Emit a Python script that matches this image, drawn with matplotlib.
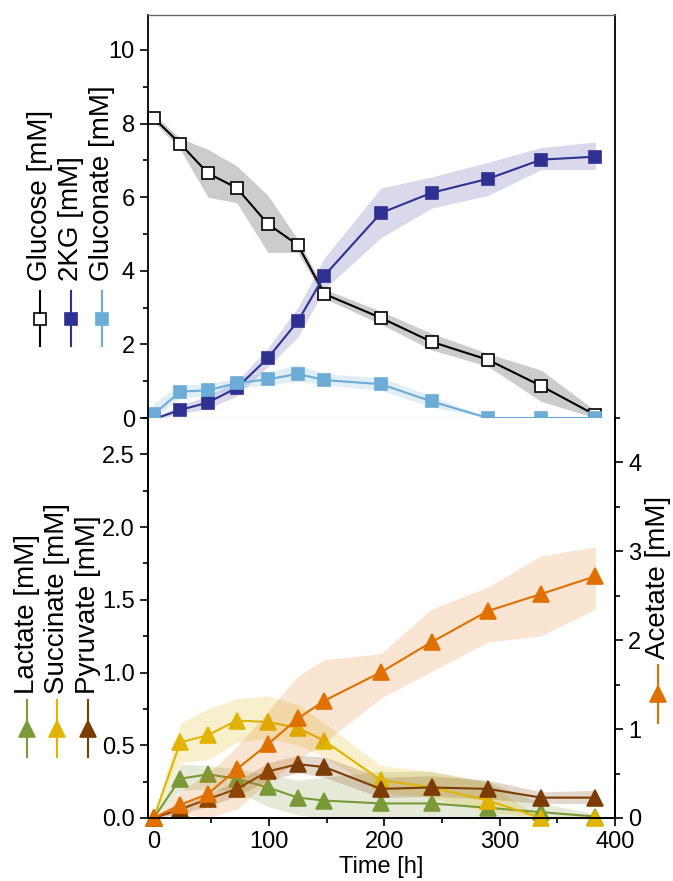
import matplotlib
matplotlib.use("Agg")
import matplotlib.pyplot as plt
import numpy as np
from matplotlib.lines import Line2D
from matplotlib.ticker import MultipleLocator

plt.rcParams['font.family'] = ['Liberation Sans', 'DejaVu Sans']
plt.rcParams['font.size'] = 17

# sampling times [h]
time = [0, 23, 47, 72, 99, 125, 148, 197, 241, 290, 336, 383]

# top panel
glucose = [8.15, 7.45, 6.65, 6.25, 5.27, 4.70, 3.37, 2.72, 2.07, 1.58, 0.87, 0.08]
glucose_lo = [8.05, 7.30, 6.00, 5.85, 4.50, 4.50, 3.25, 2.55, 1.85, 1.40, 0.45, 0.00]
glucose_hi = [8.25, 7.60, 7.30, 6.85, 6.05, 4.85, 3.50, 2.90, 2.30, 1.75, 1.30, 0.20]
kg2 = [-0.03, 0.22, 0.42, 0.82, 1.63, 2.63, 3.87, 5.57, 6.12, 6.50, 7.02, 7.10]
kg2_lo = [-0.05, 0.12, 0.25, 0.60, 1.40, 2.20, 3.50, 4.90, 5.70, 6.05, 6.75, 6.75]
kg2_hi = [0.00, 0.35, 0.60, 1.00, 1.90, 3.00, 4.35, 6.25, 6.55, 6.95, 7.35, 7.50]
gluconate = [0.10, 0.72, 0.75, 0.95, 1.05, 1.20, 1.03, 0.92, 0.45, 0.00, 0.00, 0.00]
gluconate_lo = [0.00, 0.55, 0.60, 0.80, 0.90, 1.00, 0.90, 0.75, 0.30, 0.00, 0.00, 0.00]
gluconate_hi = [0.40, 0.90, 0.92, 1.10, 1.25, 1.45, 1.20, 1.10, 0.60, 0.00, 0.00, 0.00]

# bottom panel (left axis)
lactate = [0.00, 0.27, 0.30, 0.27, 0.21, 0.14, 0.12, 0.10, 0.10, 0.07, 0.04, 0.01]
lactate_lo = [0.00, 0.19, 0.20, 0.18, 0.08, 0.02, 0.00, 0.00, 0.00, 0.00, 0.00, 0.00]
lactate_hi = [0.00, 0.37, 0.36, 0.34, 0.30, 0.26, 0.28, 0.32, 0.32, 0.25, 0.10, 0.03]
succinate = [0.00, 0.52, 0.57, 0.67, 0.66, 0.62, 0.53, 0.26, 0.21, 0.12, 0.00, 0.00]
succinate_lo = [0.00, 0.38, 0.40, 0.52, 0.55, 0.50, 0.42, 0.18, 0.14, 0.04, 0.00, 0.00]
succinate_hi = [0.00, 0.65, 0.75, 0.82, 0.84, 0.78, 0.65, 0.36, 0.32, 0.24, 0.00, 0.00]
pyruvate = [0.00, 0.06, 0.13, 0.20, 0.32, 0.37, 0.35, 0.20, 0.21, 0.20, 0.14, 0.14]
pyruvate_lo = [0.00, 0.03, 0.08, 0.15, 0.26, 0.31, 0.28, 0.14, 0.15, 0.13, 0.10, 0.10]
pyruvate_hi = [0.00, 0.09, 0.17, 0.25, 0.38, 0.43, 0.42, 0.28, 0.29, 0.26, 0.18, 0.19]

# bottom panel (right axis)
acetate = [0.00, 0.15, 0.27, 0.55, 0.83, 1.12, 1.32, 1.64, 1.98, 2.33, 2.52, 2.72]
acetate_lo = [0.00, 0.05, 0.00, 0.10, 0.40, 0.65, 0.85, 1.35, 1.65, 1.98, 2.05, 2.35]
acetate_hi = [0.00, 0.30, 0.50, 0.80, 1.20, 1.60, 1.78, 1.85, 2.35, 2.60, 2.95, 3.05]

fig = plt.figure(figsize=(6.73, 8.81), dpi=100)
L, R = 148 / 673, 615 / 673
ax1 = fig.add_axes([L, 1 - 418 / 881, R - L, (418 - 15) / 881])
ax2 = fig.add_axes([L, 1 - 818 / 881, R - L, 400 / 881])
ax3 = ax2.twinx()

lw = 1.5
ms_sq = 9
ms_tri = 11

def series(ax, y, lo, hi, color, band, marker, ms, mfc=None, band_alpha=0.3):
    ax.fill_between(time, lo, hi, color=band, alpha=band_alpha, lw=0)
    ax.plot(time, y, color=color, lw=lw, marker=marker, ms=ms,
            mfc=mfc if mfc else color, mec=color, mew=1.2, clip_on=False)

c_glu, c_kg, c_gln = 'black', '#2e3192', '#6badd6'
c_lac, c_suc, c_pyr, c_ace = '#7a9a38', '#e0b400', '#7b3c05', '#e07000'

series(ax1, glucose, glucose_lo, glucose_hi, c_glu, '#9a9a9a', 's', ms_sq, mfc='white', band_alpha=0.5)
series(ax1, kg2, kg2_lo, kg2_hi, c_kg, c_kg, 's', ms_sq, band_alpha=0.18)
series(ax1, gluconate, gluconate_lo, gluconate_hi, c_gln, c_gln, 's', ms_sq, band_alpha=0.2)

series(ax2, lactate, lactate_lo, lactate_hi, c_lac, c_lac, '^', ms_tri, band_alpha=0.2)
series(ax2, succinate, succinate_lo, succinate_hi, c_suc, c_suc, '^', ms_tri, band_alpha=0.2)
series(ax2, pyruvate, pyruvate_lo, pyruvate_hi, c_pyr, c_pyr, '^', ms_tri, band_alpha=0.2)
series(ax3, acetate, acetate_lo, acetate_hi, c_ace, c_ace, '^', ms_tri, band_alpha=0.18)

for ax in (ax1, ax2, ax3):
    ax.set_xlim(-5, 400)
    for s in ax.spines.values():
        s.set_linewidth(1.3)
    ax.tick_params(which='major', length=6, width=1.2, direction='out')
    ax.tick_params(which='minor', length=3.5, width=1.2, direction='out')

ax1.set_ylim(0, 10.95)
ax1.yaxis.set_major_locator(MultipleLocator(2))
ax1.yaxis.set_minor_locator(MultipleLocator(1))
ax1.tick_params(which='both', bottom=False, labelbottom=False)
ax1.spines['bottom'].set_linewidth(0.8)
ax1.spines['bottom'].set_color('#555555')
ax1.spines['top'].set_linewidth(1.0)
ax1.spines['top'].set_color('#666666')

ax2.set_ylim(0, 2.75)
ax2.yaxis.set_major_locator(MultipleLocator(0.5))
ax2.yaxis.set_minor_locator(MultipleLocator(0.25))
ax2.xaxis.set_major_locator(MultipleLocator(100))
ax2.xaxis.set_minor_locator(MultipleLocator(50))
ax2.spines['top'].set_visible(False)
ax3.spines['top'].set_visible(False)
ax2.set_xlabel('Time [h]', labelpad=2)

ax3.set_ylim(0, 4.5)
ax3.yaxis.set_major_locator(MultipleLocator(1))
ax3.yaxis.set_minor_locator(MultipleLocator(0.5))

# rotated legends drawn in figure pixels
H = 881.0
leg_fs = 20

def leg(xc, text_bottom, h_top, h_bot, label, color, marker, ms, mfc=None):
    fx = xc / 673
    fig.add_artist(Line2D([fx, fx], [1 - h_top / H, 1 - h_bot / H], color=color, lw=lw,
                          transform=fig.transFigure))
    mid = (h_top + h_bot) / 2
    fig.add_artist(Line2D([fx], [1 - mid / H], marker=marker, ms=ms, color=color,
                          mfc=mfc if mfc else color, mec=color, mew=1.2, lw=0,
                          transform=fig.transFigure))
    fig.text(fx, 1 - text_bottom / H, label, rotation=90, ha='center', va='bottom',
             fontsize=leg_fs)

leg(40, 281, 291, 346, 'Glucose [mM]', c_glu, 's', ms_sq, mfc='white')
leg(71, 281, 291, 346, '2KG [mM]', c_kg, 's', ms_sq)
leg(102, 281, 291, 346, 'Gluconate [mM]', c_gln, 's', ms_sq)

leg(27, 694, 700, 757, 'Lactate [mM]', c_lac, '^', ms_tri)
leg(57, 694, 700, 757, 'Succinate [mM]', c_suc, '^', ms_tri)
leg(88, 694, 700, 757, 'Pyruvate [mM]', c_pyr, '^', ms_tri)

leg(658, 659, 665, 723, 'Acetate [mM]', c_ace, '^', ms_tri)

fig.savefig('out.png', dpi=100)
